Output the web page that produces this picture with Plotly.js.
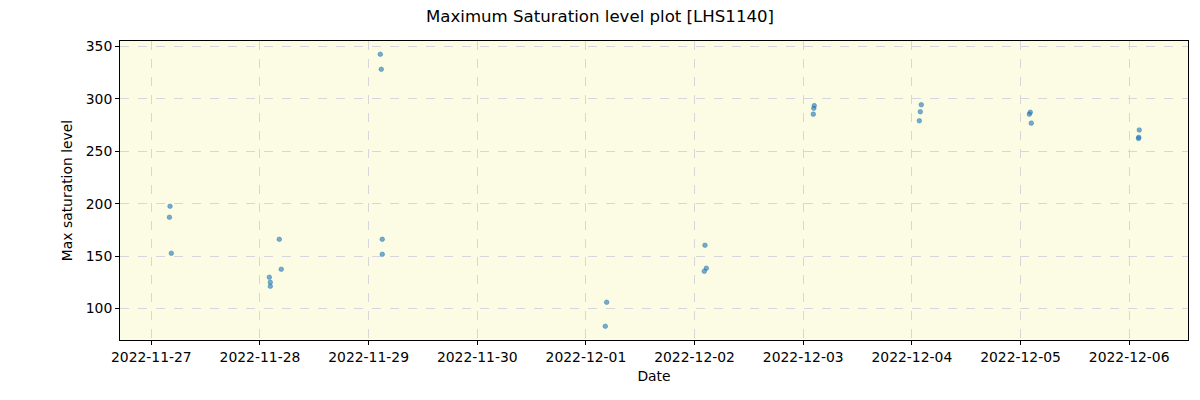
<!DOCTYPE html>
<html>
<head>
<meta charset="utf-8">
<script src="https://cdn.plot.ly/plotly-3.0.1.min.js"></script>
<style>html,body{margin:0;padding:0;background:#fff;}#chart{width:1200px;height:400px;}</style>
</head>
<body>
<div id="chart"></div>
<script>
const dates = [
  '2022-11-27 04:08','2022-11-27 04:00','2022-11-27 04:25',
  '2022-11-28 04:16','2022-11-28 04:42','2022-11-28 02:04','2022-11-28 02:17','2022-11-28 02:17',
  '2022-11-29 02:35','2022-11-29 02:48','2022-11-29 03:01','2022-11-29 03:01',
  '2022-12-01 04:35','2022-12-01 04:17',
  '2022-12-02 02:18','2022-12-02 02:36','2022-12-02 02:09',
  '2022-12-03 02:27','2022-12-03 02:20','2022-12-03 02:14',
  '2022-12-04 02:05','2022-12-04 01:52','2022-12-04 01:39',
  '2022-12-05 02:10','2022-12-05 01:57','2022-12-05 02:23',
  '2022-12-06 02:14','2022-12-06 02:07','2022-12-06 02:04'
];
const maxSat = [
  197.5, 187, 152.7,
  166, 137.4, 129.8, 125, 121.2,
  342.6, 328.2, 166, 151.7,
  105.9, 83,
  160.3, 138.4, 135.5,
  293.5, 291, 285.4,
  294.4, 287.7, 279.1,
  287.2, 285.4, 276.8,
  270.3, 263.3, 262.2
];
const titleText = 'Maximum Saturation level plot [LHS1140]';
const xTitle = 'Date';
const yTitle = 'Max saturation level';

const font = "'DejaVu Sans', sans-serif";
const trace = {
  x: dates, y: maxSat, type: 'scatter', mode: 'markers',
  marker: {size: 4.6, color: 'rgba(31,119,180,0.6)', line: {width: 0.6, color: 'rgba(31,119,180,0.7)'}},
  hoverinfo: 'x+y'
};
const layout = {
  width: 1200, height: 400,
  margin: {l: 120, r: 12, t: 41, b: 60},
  paper_bgcolor: '#ffffff',
  plot_bgcolor: '#fcfbe3',
  font: {family: font, size: 13.9, color: '#000'},
  title: {text: titleText, x: 0.5, xanchor: 'center', y: 0.96, yanchor: 'middle', font: {family: font, size: 16.6, color: '#000'}},
  showlegend: false,
  xaxis: {
    type: 'date',
    range: ['2022-11-26 17:05', '2022-12-06 13:00'],
    tick0: '2022-11-27', dtick: 86400000,
    tickformat: '%Y-%m-%d',
    ticks: 'outside', ticklen: 4, tickcolor: '#000', tickwidth: 1,
    showgrid: true, gridcolor: '#d6d6dc', griddash: 'dash', gridwidth: 1,
    showline: true, linecolor: '#000', linewidth: 1, mirror: true,
    zeroline: false,
    tickfont: {family: font, size: 13.9},
    title: {text: xTitle, font: {family: font, size: 13.9}, standoff: 7}
  },
  yaxis: {
    range: [69.9, 355.2],
    tick0: 100, dtick: 50,
    ticks: 'outside', ticklen: 4, tickcolor: '#000', tickwidth: 1,
    showgrid: true, gridcolor: '#d6d6dc', griddash: 'dash', gridwidth: 1,
    showline: true, linecolor: '#000', linewidth: 1, mirror: true,
    zeroline: false,
    tickfont: {family: font, size: 13.9},
    title: {text: yTitle, font: {family: font, size: 13.9}, standoff: 9}
  }
};
Plotly.newPlot('chart', [trace], layout, {displayModeBar: false, staticPlot: true});
</script>
</body>
</html>
